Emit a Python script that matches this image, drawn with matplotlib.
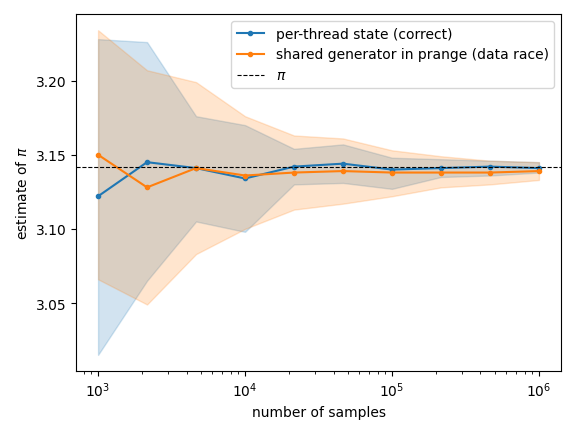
import numpy as np
import matplotlib
matplotlib.use("Agg")
import matplotlib.pyplot as plt

n_samples = [1e3, 2.154e3, 4.642e3, 1e4, 2.154e4, 4.642e4, 1e5, 2.154e5, 4.642e5, 1e6]
blue_mean = [3.122, 3.145, 3.141, 3.134, 3.142, 3.144, 3.140, 3.141, 3.142, 3.141]
blue_hi = [3.228, 3.226, 3.176, 3.170, 3.154, 3.157, 3.148, 3.147, 3.146, 3.145]
blue_lo = [3.015, 3.065, 3.105, 3.098, 3.130, 3.131, 3.127, 3.135, 3.136, 3.138]
orange_mean = [3.150, 3.128, 3.141, 3.136, 3.138, 3.139, 3.138, 3.138, 3.138, 3.139]
orange_hi = [3.234, 3.207, 3.199, 3.176, 3.163, 3.161, 3.153, 3.149, 3.146, 3.145]
orange_lo = [3.066, 3.049, 3.083, 3.100, 3.113, 3.117, 3.122, 3.128, 3.130, 3.133]

fig, ax = plt.subplots(figsize=(5.76, 4.35), dpi=100)
ax.fill_between(n_samples, blue_lo, blue_hi, color="C0", alpha=0.2)
ax.fill_between(n_samples, orange_lo, orange_hi, color="C1", alpha=0.2)
ax.plot(n_samples, blue_mean, marker=".", color="C0", label="per-thread state (correct)")
ax.plot(n_samples, orange_mean, marker=".", color="C1", label="shared generator in prange (data race)")
ax.axhline(np.pi, color="black", linestyle="--", linewidth=0.8, label=r"$\pi$")
ax.set_xscale("log")
ax.set_xlabel("number of samples")
ax.set_ylabel(r"estimate of $\pi$")
ax.legend(loc="upper right")
fig.subplots_adjust(left=0.125, right=0.9, bottom=0.11, top=0.88)
fig.tight_layout()
fig.savefig("out.png")
